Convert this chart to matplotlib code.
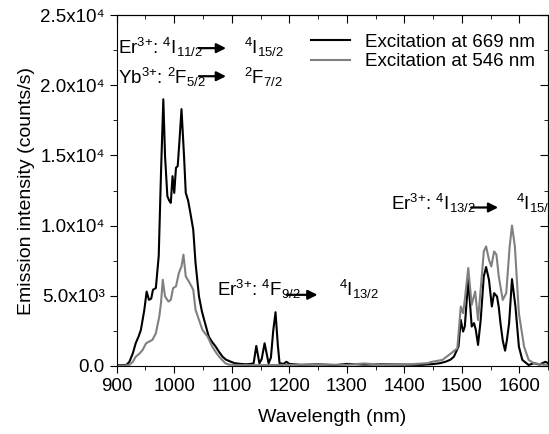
import matplotlib
matplotlib.use("Agg")
import matplotlib.pyplot as plt
from matplotlib.ticker import MultipleLocator, FuncFormatter, NullFormatter

plt.rcParams['font.family'] = ['Liberation Sans', 'DejaVu Sans']
plt.rcParams['mathtext.fontset'] = 'custom'
plt.rcParams['mathtext.rm'] = 'Liberation Sans'
plt.rcParams['mathtext.it'] = 'Liberation Sans:italic'
plt.rcParams['mathtext.default'] = 'regular'

# Excitation at 669 nm (black)
wl_669 = [900, 910, 917, 922, 928, 933, 938, 942, 948, 952, 956, 960, 963, 968,
          973, 977, 981, 984, 988, 991, 994, 997, 1000, 1003, 1006, 1009, 1012.6,
          1017, 1020, 1024, 1027, 1033, 1037, 1043, 1048, 1052, 1060, 1066, 1072,
          1078, 1084, 1090, 1098, 1105, 1115, 1125, 1133, 1138, 1142.6, 1148,
          1152, 1157, 1161, 1164, 1168, 1172, 1176, 1180, 1183, 1190, 1195, 1200,
          1220, 1250, 1280, 1300, 1330, 1360, 1400, 1430, 1450, 1462, 1472, 1480,
          1486, 1494, 1498, 1502, 1505, 1508, 1511, 1514, 1517, 1521, 1524, 1528,
          1532.6, 1538, 1542, 1547, 1552, 1556, 1561, 1564, 1567, 1571, 1575, 1578,
          1582, 1587, 1593, 1599, 1605, 1616, 1625, 1635, 1645, 1650]
int_669 = [60, 70, 80, 300, 900, 1620, 2100, 2570, 4000, 5300, 4710, 4800, 5430, 5550,
           7830, 13800, 19000, 14950, 12100, 11800, 11620, 13520, 12330, 14120, 14240,
           16000, 18300, 14950, 12330, 11800, 11140, 9710, 7330, 4950, 3900, 3280,
           2090, 1700, 1380, 1000, 660, 450, 310, 200, 150, 120, 150, 200, 1430, 190,
           500, 1620, 800, 190, 600, 2500, 3830, 1500, 200, 150, 300, 150,
           80, 120, 60, 150, 100, 120, 100, 80, 140, 200, 310, 450,
           660, 1380, 3280, 2450, 2810, 4500, 6140, 4500, 2810, 3050, 2600, 1500,
           3280, 6380, 7050, 6140, 4240, 5190, 4950, 4200, 3050, 1800, 1090, 1800,
           3050, 6190, 4240, 1380, 430, 70, 200, 100, 300, 200]

# Excitation at 546 nm (gray)
wl_546 = [900, 915, 922, 928, 933, 940, 945, 951, 957, 962, 968, 974, 977, 980,
          984, 990, 994, 998, 1003, 1008, 1012.6, 1016, 1020, 1027, 1033, 1037,
          1043, 1049, 1058, 1066, 1072, 1078, 1084, 1089, 1095, 1110, 1150, 1200,
          1250, 1300, 1330, 1360, 1400, 1440, 1448, 1466, 1481, 1492, 1498, 1502,
          1505, 1511, 1517, 1523, 1528, 1534, 1538, 1542, 1547, 1551, 1556, 1560,
          1564, 1571, 1577, 1583, 1587, 1592, 1599, 1608, 1616, 1625, 1640, 1650]
int_546 = [30, 40, 80, 300, 660, 900, 1140, 1620, 1750, 1860, 2330, 3520, 4500, 6140,
           4950, 4590, 4710, 5550, 5670, 6620, 7100, 7930, 6380, 5900, 5430, 4000,
           3280, 2570, 2090, 1380, 1000, 660, 400, 190, 100, 60, 60, 80,
           100, 80, 180, 90, 100, 200, 300, 430, 900, 1260, 4240, 3760,
           4710, 6980, 4360, 5310, 3280, 6140, 8160, 8520, 7570, 7090, 8160, 7930,
           6380, 4710, 5190, 8520, 10000, 8520, 3760, 1380, 430, 200, 100, 80]

fig = plt.figure(figsize=(5.49, 4.34), dpi=100)
ax = fig.add_axes([0.2126, 0.1567, 0.786, 0.8087])

ax.plot(wl_669, int_669, color='black', lw=1.5, label='Excitation at 669 nm')
ax.plot(wl_546, int_546, color='#808080', lw=1.5, label='Excitation at 546 nm')

ax.set_xlim(900, 1650)
ax.set_ylim(0, 25000)
ax.xaxis.set_major_locator(MultipleLocator(100))
ax.xaxis.set_minor_locator(MultipleLocator(50))
ax.yaxis.set_major_locator(MultipleLocator(5000))
ax.yaxis.set_minor_locator(MultipleLocator(2500))

SUP = {'3': '\u00b3', '4': '\u2074'}


def sci_fmt(v, pos):
    if v == 0:
        return '0.0'
    exp = len(str(int(v))) - 1
    return '%.1fx10%s' % (v / 10**exp, SUP[str(exp)])


ax.yaxis.set_major_formatter(FuncFormatter(sci_fmt))
ax.tick_params(which='both', direction='out', labelsize=13.5)
ax.tick_params(which='major', length=5)
ax.tick_params(which='minor', length=3)

# inward ticks on top and right
top = ax.secondary_xaxis('top')
top.xaxis.set_major_locator(MultipleLocator(100))
top.xaxis.set_minor_locator(MultipleLocator(50))
top.xaxis.set_major_formatter(NullFormatter())
top.tick_params(which='both', direction='in')
top.tick_params(which='major', length=6)
top.tick_params(which='minor', length=3)
right = ax.secondary_yaxis('right')
right.yaxis.set_major_locator(MultipleLocator(5000))
right.yaxis.set_minor_locator(MultipleLocator(2500))
right.yaxis.set_major_formatter(NullFormatter())
right.tick_params(which='both', direction='in')
right.tick_params(which='major', length=6)
right.tick_params(which='minor', length=3)

ax.set_xlabel('Wavelength (nm)', fontsize=14, labelpad=10)
ax.set_ylabel('Emission intensity (counts/s)', fontsize=14, labelpad=4)

ax.legend(loc='upper right', frameon=False, fontsize=13.5, handlelength=2.1,
          borderaxespad=0.3, bbox_to_anchor=(1.0, 0.985), labelspacing=0.15)

# Transition labels
fs = 13.5
arrow = dict(arrowstyle='-|>', color='black', lw=1.6, mutation_scale=14,
             shrinkA=0, shrinkB=0)

ax.text(902, 22200, r'Er$^{3{+}}$: $^{4}$I$_{11/2}$', fontsize=fs)
ax.annotate('', xy=(1090, 22640), xytext=(1043, 22640), arrowprops=arrow)
ax.text(1122, 22200, r'$^{4}$I$_{15/2}$', fontsize=fs)

ax.text(902, 20070, r'Yb$^{3{+}}$: $^{2}$F$_{5/2}$', fontsize=fs)
ax.annotate('', xy=(1090, 20640), xytext=(1043, 20640), arrowprops=arrow)
ax.text(1122, 20070, r'$^{2}$F$_{7/2}$', fontsize=fs)

ax.text(1074, 5000, r'Er$^{3{+}}$: $^{4}$F$_{9/2}$', fontsize=fs)
ax.annotate('', xy=(1249, 5070), xytext=(1195, 5070), arrowprops=arrow)
ax.text(1287, 5000, r'$^{4}$I$_{13/2}$', fontsize=fs)

ax.text(1377, 11140, r'Er$^{3{+}}$: $^{4}$I$_{13/2}$', fontsize=fs)
ax.annotate('', xy=(1563, 11290), xytext=(1516, 11290), arrowprops=arrow)
ax.text(1594, 11140, r'$^{4}$I$_{15/2}$', fontsize=fs)

fig.savefig('out.png', dpi=100)
